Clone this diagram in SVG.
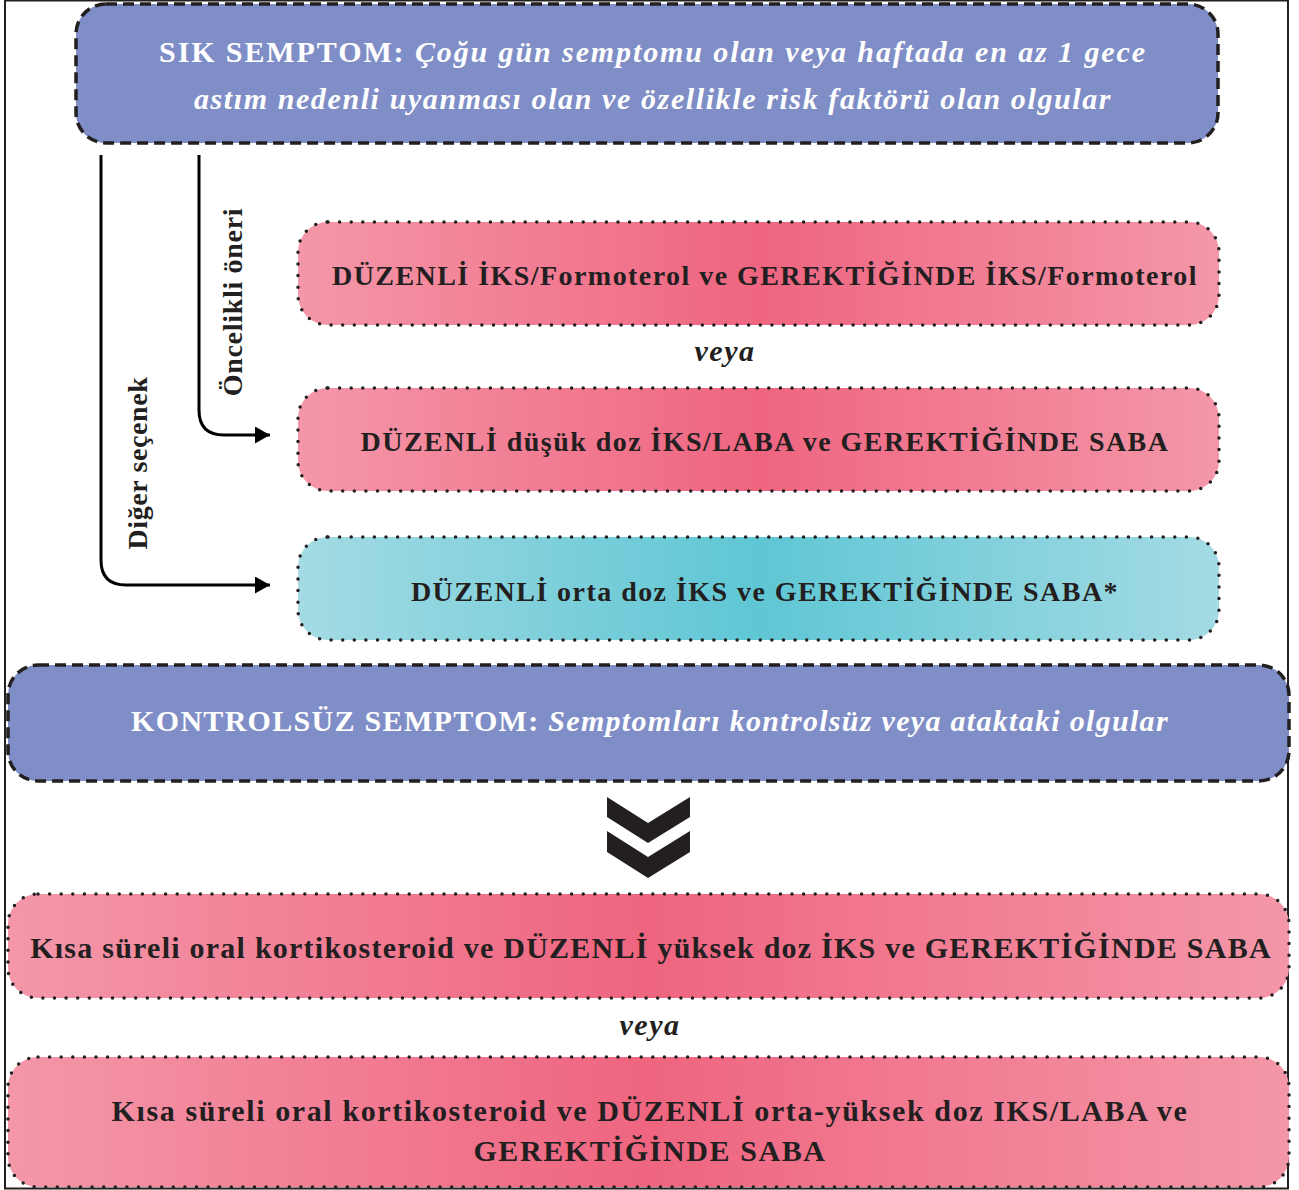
<svg xmlns="http://www.w3.org/2000/svg" width="1299" height="1190" viewBox="0 0 1299 1190">
<defs>
<linearGradient id="pink" x1="0" y1="0" x2="1" y2="0">
<stop offset="0" stop-color="#f497a9"/>
<stop offset="0.5" stop-color="#ef6580"/>
<stop offset="1" stop-color="#f497a9"/>
</linearGradient>
<linearGradient id="teal" x1="0" y1="0" x2="1" y2="0">
<stop offset="0" stop-color="#a4dbe4"/>
<stop offset="0.5" stop-color="#5fc6d4"/>
<stop offset="1" stop-color="#a4dbe4"/>
</linearGradient>
<marker id="ah" viewBox="0 0 15 17" refX="15" refY="8.5" markerWidth="15" markerHeight="17" markerUnits="userSpaceOnUse" orient="auto">
<path d="M0,0 L15,8.5 L0,17 Z" fill="#000"/>
</marker>
<style>
.blue{fill:#7f8ec6;stroke:#231f20;stroke-width:3.5;stroke-dasharray:11 6}
.dot{stroke:#231f20;stroke-width:3.5;stroke-linecap:round;stroke-dasharray:0 11.6}
.t{font-family:"Liberation Serif",serif;font-weight:bold;text-anchor:middle}
.w{fill:#ffffff;font-size:30px}
.d{fill:#231f20;font-size:28px;letter-spacing:1.45px}
.i{font-style:italic}
.conn{fill:none;stroke:#000;stroke-width:3}
</style>
</defs>
<rect x="5" y="0.5" width="1283" height="1188" fill="#fff" stroke="#231f20" stroke-width="2"/>
<g id="sik">
<rect class="blue" x="76" y="4" width="1142" height="139" rx="30"/>
<text class="t w" x="653" y="62" style="letter-spacing:1.9px">SIK SEMPTOM: <tspan class="i">Çoğu gün semptomu olan veya haftada en az 1 gece</tspan></text>
<text class="t w i" x="653" y="109" style="letter-spacing:1.6px">astım nedenli uyanması olan ve özellikle risk faktörü olan olgular</text>
</g>
<g id="connectors">
<path class="conn" d="M199,155 V410 Q199,435 224,435 H270" marker-end="url(#ah)"/>
<path class="conn" d="M101,155 V560 Q101,585 126,585 H270" marker-end="url(#ah)"/>
<text class="t d" transform="translate(242,302) rotate(-90)" style="letter-spacing:0.7px">Öncelikli öneri</text>
<text class="t d" transform="translate(147,463) rotate(-90)" style="letter-spacing:0.6px">Diğer seçenek</text>
</g>
<g id="opt1">
<rect class="dot" fill="url(#pink)" x="298" y="222" width="921" height="103" rx="30"/>
<text class="t d" x="765" y="285">DÜZENLİ İKS/Formoterol ve GEREKTİĞİNDE İKS/Formoterol</text>
</g>
<g id="veya1"><text class="t d i" x="725" y="361" style="font-size:30px;letter-spacing:1.5px">veya</text></g>
<g id="opt2">
<rect class="dot" fill="url(#pink)" x="298" y="388" width="921" height="103" rx="30"/>
<text class="t d" x="765" y="451">DÜZENLİ düşük doz İKS/LABA ve GEREKTİĞİNDE SABA</text>
</g>
<g id="opt3">
<rect class="dot" fill="url(#teal)" x="298" y="537" width="921" height="103" rx="30"/>
<text class="t d" x="765" y="601">DÜZENLİ orta doz İKS ve GEREKTİĞİNDE SABA*</text>
</g>
<g id="kontrolsuz">
<rect class="blue" x="8" y="665" width="1281" height="116" rx="30"/>
<text class="t w" x="650" y="731" style="letter-spacing:1.3px">KONTROLSÜZ SEMPTOM: <tspan class="i">Semptomları kontrolsüz veya ataktaki olgular</tspan></text>
</g>
<g id="chevrons" fill="#231f20">
<path d="M607,797 L648,823 L690,797 L690,817 L648,843 L607,817 Z"/>
<path d="M607,831 L648,857 L690,831 L690,852 L648,878 L607,852 Z"/>
</g>
<g id="opt4">
<rect class="dot" fill="url(#pink)" x="8" y="894" width="1281" height="104" rx="30"/>
<text class="t d" x="651" y="958" style="font-size:30px;letter-spacing:1.24px">Kısa süreli oral kortikosteroid ve DÜZENLİ yüksek doz İKS ve GEREKTİĞİNDE SABA</text>
</g>
<g id="veya2"><text class="t d i" x="650" y="1035" style="font-size:30px;letter-spacing:1.5px">veya</text></g>
<g id="opt5">
<rect class="dot" fill="url(#pink)" x="8" y="1057" width="1281" height="130" rx="30"/>
<text class="t d" x="650" y="1121" style="font-size:30px;letter-spacing:1.6px">Kısa süreli oral kortikosteroid ve DÜZENLİ orta-yüksek doz IKS/LABA ve</text>
<text class="t d" x="650" y="1161" style="font-size:30px;letter-spacing:1.6px">GEREKTİĞİNDE SABA</text>
</g>
</svg>
